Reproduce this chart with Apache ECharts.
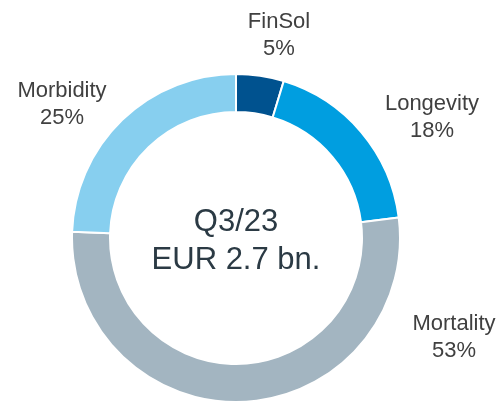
<!DOCTYPE html>
<html>
<head>
<meta charset="utf-8">
<script src="https://cdn.jsdelivr.net/npm/echarts@6/dist/echarts.min.js"></script>
<style>
html,body{margin:0;padding:0;background:#fff;}
#chart{width:504px;height:402px;}
</style>
</head>
<body>
<div id="chart"></div>
<script>
var categories = ['FinSol', 'Longevity', 'Mortality', 'Morbidity'];
var values = [4.7, 18.3, 52.6, 24.4];
var pctLabels = ['5%', '18%', '53%', '25%'];
var centerLines = ['Q3/23', 'EUR 2.7 bn.'];

var colors = ['#00528f', '#009ee0', '#a3b5c1', '#87cfef'];
var labelPos = [[279, 35], [432, 117], [454, 337], [62, 104]];

var chart = echarts.init(document.getElementById('chart'), null, {renderer: 'canvas'});
chart.setOption({
  animation: false,
  series: [{
    type: 'pie',
    center: [236, 238],
    radius: [126, 164],
    startAngle: 90,
    clockwise: true,
    silent: true,
    avoidLabelOverlap: false,
    itemStyle: {borderColor: '#ffffff', borderWidth: 2},
    label: {
      show: true,
      position: 'outside',
      overflow: 'none',
      formatter: function (p) { return p.name + '\n' + pctLabels[p.dataIndex]; },
      fontFamily: 'Liberation Sans, Arial, sans-serif',
      fontSize: 22,
      lineHeight: 27,
      color: '#404040',
      align: 'center'
    },
    labelLine: {show: false},
    labelLayout: function (params) {
      var pos = labelPos[params.dataIndex];
      return {x: pos[0], y: pos[1], align: 'center', verticalAlign: 'middle'};
    },
    data: categories.map(function (c, i) {
      return {name: c, value: values[i], itemStyle: {color: colors[i]}};
    })
  }],
  graphic: [{
    type: 'text',
    x: 236,
    y: 241,
    style: {
      text: centerLines.join('\n'),
      align: 'center',
      verticalAlign: 'middle',
      fontFamily: 'Liberation Sans, Arial, sans-serif',
      fontSize: 31,
      lineHeight: 38,
      fill: '#2b3a44'
    }
  }]
});
</script>
</body>
</html>
